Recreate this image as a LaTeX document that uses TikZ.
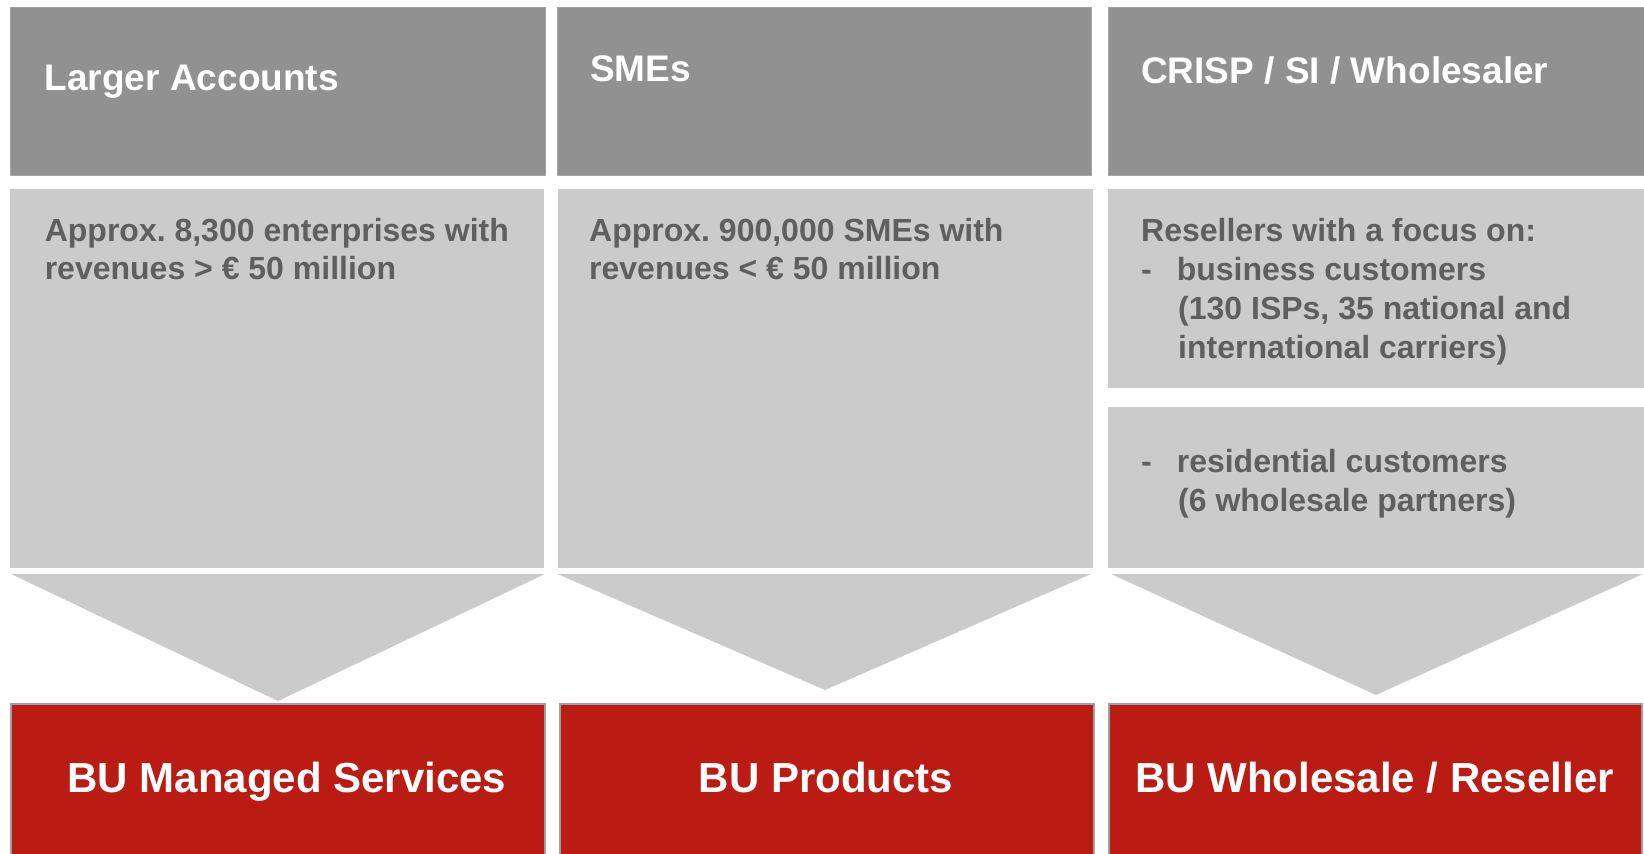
\documentclass[tikz,border=0pt]{standalone}
\usepackage{fontspec}
\setmainfont{Liberation Sans}
\frenchspacing
\definecolor{hdrgray}{HTML}{919191}
\definecolor{hdredge}{HTML}{A3A3A3}
\definecolor{panelgray}{HTML}{CBCBCB}
\definecolor{bodygray}{HTML}{5F5F5F}
\definecolor{bured}{HTML}{BA1B13}
\definecolor{buedge}{HTML}{A0A0A0}
\begin{document}
\begin{tikzpicture}[x=1pt,y=-1pt,
  hdr/.style={fill=hdrgray, draw=hdredge, line width=1pt},
  panel/.style={fill=panelgray},
  chev/.style={fill=panelgray},
  bu/.style={fill=bured, draw=buedge, line width=2pt},
  hdrtext/.style={anchor=base west, inner sep=0pt, text=white,
    font=\fontsize{37}{44}\selectfont\bfseries},
  bodytext/.style={anchor=base west, inner sep=0pt, text=bodygray,
    font=\fontsize{32}{38.4}\selectfont\bfseries},
  butext/.style={anchor=base, inner sep=0pt, text=white,
    font=\fontsize{42}{50}\selectfont\bfseries}]
\useasboundingbox (0,0) rectangle (1644,854);

% header bars
\path[hdr] (10,7) rectangle (545,175);
\path[hdr] (557.5,7) rectangle (1091.5,175);
\path[hdr] (1108,7) rectangle (1650,175);

% description panels
\path[panel] (10,189) rectangle (544,567.5);
\path[panel] (558,189) rectangle (1092.5,567.5);
\path[panel] (1108,189) rectangle (1644,387.5);
\path[panel] (1108,407) rectangle (1644,567.5);

% chevrons pointing to the business units
\coordinate (c1l) at (11,574);    \coordinate (c1r) at (545,574);   \coordinate (c1t) at (278,701);
\coordinate (c2l) at (557.5,574); \coordinate (c2r) at (1091,574);  \coordinate (c2t) at (825,690);
\coordinate (c3l) at (1111,574);  \coordinate (c3r) at (1643,574);  \coordinate (c3t) at (1376,695);
\fill[chev] (c1l) -- (c1r) -- (c1t) -- cycle;
\fill[chev] (c2l) -- (c2r) -- (c2t) -- cycle;
\fill[chev] (c3l) -- (c3r) -- (c3t) -- cycle;

% business unit boxes
\path[bu] (11,703.5) rectangle (544.5,858);
\path[bu] (559.5,703.5) rectangle (1094,858);
\path[bu] (1108.5,703.5) rectangle (1641.5,858);

% header labels
\node[hdrtext] (h1) at (44.6,90) {Larger Accounts};
\node[hdrtext] (h2) at (590,81) {SMEs};
\node[hdrtext] (h3) at (1141,83.3) {CRISP / SI / Wholesaler};

% panel texts
\node[bodytext] (p1a) at (44.6,241) {Approx. 8,300 enterprises with};
\node[bodytext] (p1b) at (44.6,279.4) {revenues > € 50 million};
\node[bodytext] (p2a) at (589,241) {Approx. 900,000 SMEs with};
\node[bodytext] (p2b) at (589,279.4) {revenues < € 50 million};

\node[bodytext] (p3a) at (1141,241.5) {Resellers with a focus on:};
\node[bodytext] (p3d1) at (1141,280) {-};
\node[bodytext] (p3b) at (1176.6,280) {business customers};
\node[bodytext] (p3c) at (1178,319.5) {(130 ISPs, 35 national and};
\node[bodytext] (p3e) at (1178,358) {international carriers)};

\node[bodytext] (p4d1) at (1141,472) {-};
\node[bodytext] (p4a) at (1176.6,472) {residential customers};
\node[bodytext] (p4b) at (1178,511) {(6 wholesale partners)};

% business unit labels
\node[butext] (b1) at (287,792.3) {BU Managed Services};
\node[butext] (b2) at (826,792.3) {BU Products};
\node[butext] (b3) at (1374.5,792.3) {BU Wholesale / Reseller};
\end{tikzpicture}
\end{document}
